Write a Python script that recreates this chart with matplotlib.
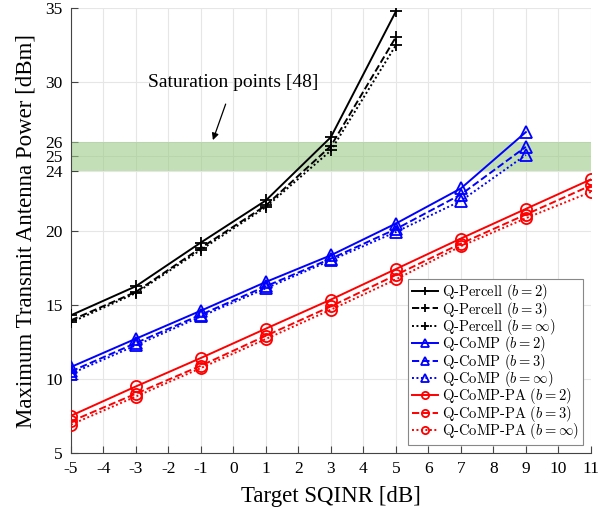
import numpy as np
import matplotlib
matplotlib.use("Agg")
import matplotlib.pyplot as plt

plt.rcParams['font.family'] = ['Liberation Serif', 'DejaVu Serif']
plt.rcParams['mathtext.fontset'] = 'cm'

# data
x_percell = [-5, -3, -1, 1, 3, 5]
percell_b2 = [14.28, 16.24, 19.19, 22.03, 26.3, 34.78]
percell_b3 = [13.94, 15.86, 18.83, 21.69, 25.7, 33.05]
percell_inf = [13.8, 15.78, 18.7, 21.58, 25.4, 32.5]

x_comp = [-5, -3, -1, 1, 3, 5, 7, 9]
comp_b2 = [10.79, 12.7, 14.59, 16.53, 18.33, 20.47, 22.84, 26.64]
comp_b3 = [10.49, 12.41, 14.32, 16.24, 18.1, 20.1, 22.43, 25.65]
comp_inf = [10.34, 12.25, 14.2, 16.1, 17.99, 19.9, 22.0, 25.1]

x_pa = [-5, -3, -1, 1, 3, 5, 7, 9, 11]
pa_b2 = [7.5, 9.48, 11.4, 13.38, 15.34, 17.4, 19.46, 21.46, 23.45]
pa_b3 = [7.12, 8.99, 10.88, 12.9, 14.88, 17.0, 19.12, 21.08, 23.04]
pa_inf = [6.9, 8.8, 10.72, 12.68, 14.66, 16.7, 18.94, 20.83, 22.6]

x_ticks = list(range(-5, 12))
y_ticks = [5, 10, 15, 20, 24, 25, 26, 30, 35]
sat_low, sat_high = 24, 26

fig = plt.figure(figsize=(6.11, 5.14), dpi=100)
ax = fig.add_axes([0.116, 0.119, 0.851, 0.865])

ax.axhspan(sat_low, sat_high, color='#9ccb88', alpha=0.6, lw=0, zorder=1)

lw = 1.4
styles = ['-', '--', (0, (1, 1.3))]
labels_b = ['2', '3', r'\infty']
groups = [
    ('Q-Percell', 'k', '+', 9, x_percell, [percell_b2, percell_b3, percell_inf]),
    ('Q-CoMP', 'b', '^', 9, x_comp, [comp_b2, comp_b3, comp_inf]),
    ('Q-CoMP-PA', 'r', 'o', 8, x_pa, [pa_b2, pa_b3, pa_inf]),
]
for name, c, m, ms, xs, ys in groups:
    for ls, b, y in zip(styles, labels_b, ys):
        ax.plot(xs, y, ls=ls, color=c, marker=m, ms=ms, mfc='none',
                mew=1.3, lw=lw, zorder=3,
                label=name + ' ($b=' + b + '$)')

ax.set_xlim(-5, 11)
ax.set_ylim(5, 35)
ax.set_xticks(x_ticks)
ax.set_yticks(y_ticks)
ax.set_xticklabels([str(t) for t in x_ticks])
ax.set_yticklabels([str(t) for t in y_ticks])
ax.tick_params(direction='in', labelsize=12.5, length=5, color='#444444', pad=6)
ax.grid(True, color='#e6e6e6', lw=0.8, zorder=0)
ax.set_axisbelow(True)
for s in ['top', 'right']:
    ax.spines[s].set_visible(False)
for s in ['left', 'bottom']:
    ax.spines[s].set_color('#444444')

ax.set_xlabel('Target SQINR [dB]', fontsize=16.5, labelpad=6)
ax.set_ylabel('Maximum Transmit Antenna Power [dBm]', fontsize=16.5, labelpad=6)

ax.annotate('Saturation points [48]', xy=(-0.63, 26.1), xytext=(0.0, 30.0),
            ha='center', va='center', fontsize=14,
            arrowprops=dict(arrowstyle='-|>', color='k', lw=0.9,
                            mutation_scale=10, shrinkA=8, shrinkB=0))

leg = ax.legend(loc='lower right', bbox_to_anchor=(0.985, 0.018),
                handlelength=1.8, handletextpad=0.3,
                labelspacing=-0.18, borderpad=0.25, borderaxespad=0,
                fancybox=False, framealpha=1, edgecolor='#888888',
                markerscale=0.65, prop={'family': 'cmr10', 'size': 10.5})
leg.get_frame().set_linewidth(0.8)

fig.savefig('out.png', dpi=100)
